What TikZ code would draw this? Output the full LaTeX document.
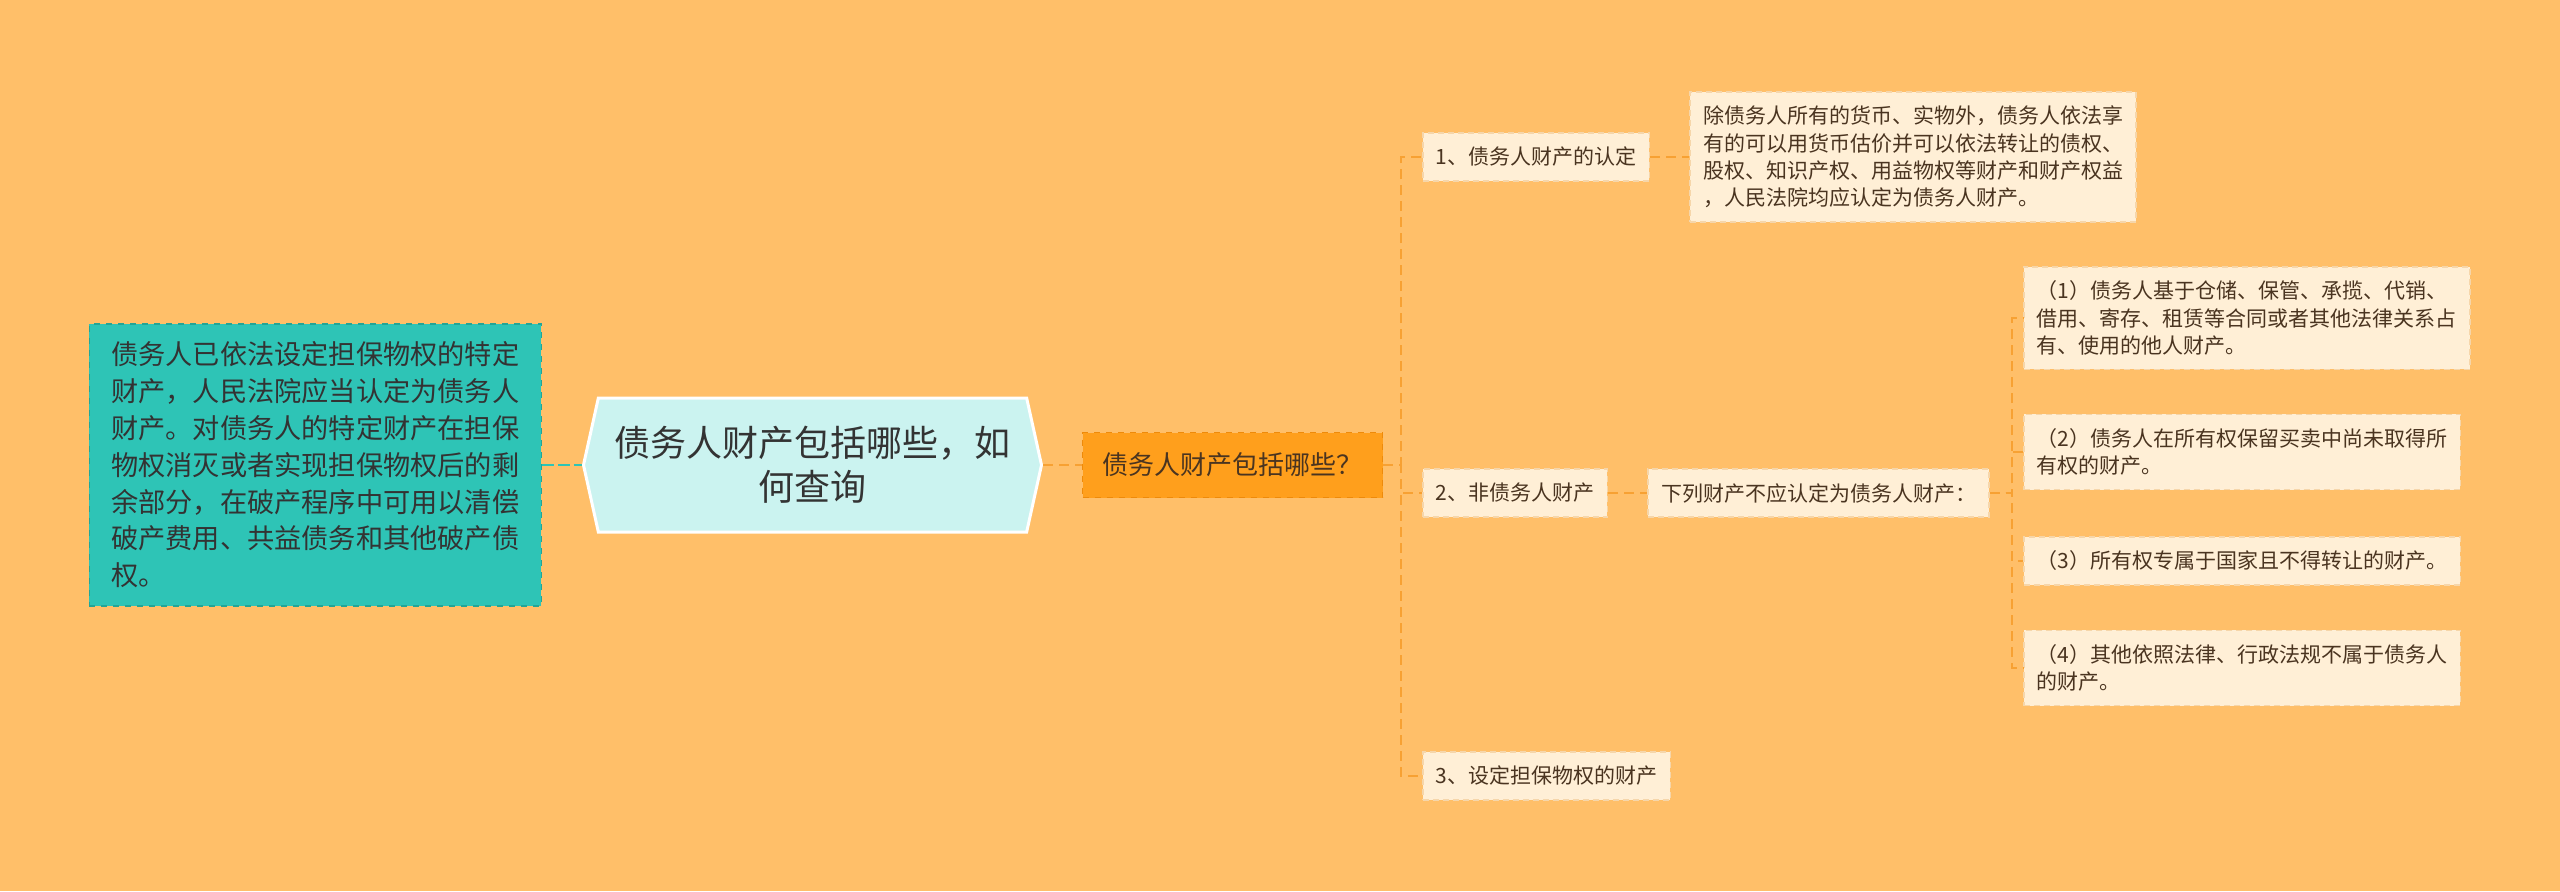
\documentclass[tikz,border=0pt]{standalone}
\usepackage{fontspec}
\setmainfont{Noto Sans CJK SC}
\usetikzlibrary{positioning,shapes.symbols}

\definecolor{bgorange}{HTML}{FFBF69}
\definecolor{tealbox}{HTML}{2EC4B6}
\definecolor{tealedge}{HTML}{22A597}
\definecolor{hubfill}{HTML}{CBF3F0}
\definecolor{rootfill}{HTML}{FF9F1C}
\definecolor{rootedge}{HTML}{EE8A0A}
\definecolor{leaffill}{HTML}{FFEFD6}
\definecolor{leafedge}{HTML}{F6D6AA}
\definecolor{linkorange}{HTML}{F7A133}
\definecolor{leaftext}{HTML}{4A3420}

\begin{document}
\begin{tikzpicture}[
  x=0.5pt, y=-0.5pt,
  hub/.style={shape=signal, signal to=west and east, signal pointer angle=155,
    fill=hubfill, draw=white, line width=1.5pt, minimum width=229pt,
    minimum height=67pt, align=center, text=black!80,
    font=\fontsize{18}{22}\selectfont},
  notebox/.style={fill=tealbox, draw=tealedge, dashed, line width=0.6pt,
    align=left, inner xsep=11pt, inner ysep=9pt, text=black!80,
    font=\fontsize{13.6}{18.4}\selectfont},
  rootbox/.style={fill=rootfill, draw=rootedge, dashed, line width=0.6pt,
    minimum height=32.5pt, inner xsep=10pt, text=leaftext,
    font=\fontsize{13}{16}\selectfont},
  leaf/.style={fill=leaffill, draw=leafedge, dash pattern=on 3pt off 2pt,
    line width=0.8pt, align=left, inner xsep=6.5pt, inner ysep=7pt,
    minimum height=24pt, text=leaftext,
    font=\fontsize{10.5}{13.7}\selectfont},
  link/.style={draw=linkorange, line width=1pt, dash pattern=on 5pt off 3pt},
  tlink/.style={draw=tealbox, line width=1.2pt, dash pattern=on 6pt off 2pt}
]
\path[use as bounding box, fill=bgorange] (0,0) rectangle (2560,891);

% centre and left side
\node[hub] (hub) at (812.5,465) {债务人财产包括哪些，如\\何查询};
\node[notebox, left=20pt of hub] (basis) {债务人已依法设定担保物权的特定\\财产，人民法院应当认定为债务人\\财产。对债务人的特定财产在担保\\物权消灭或者实现担保物权后的剩\\余部分，在破产程序中可用以清偿\\破产费用、共益债务和其他破产债\\权。};
\node[rootbox, right=19.5pt of hub] (root) {债务人财产包括哪些？};

% branches
\node[leaf, anchor=west] (c1) at (1422,157) {1、债务人财产的认定};
\node[leaf, right=19.5pt of c1] (c1d) {除债务人所有的货币、实物外，债务人依法享\\有的可以用货币估价并可以依法转让的债权、\\股权、知识产权、用益物权等财产和财产权益\\，人民法院均应认定为债务人财产。};
\node[leaf, anchor=west] (c2) at (1422,493) {2、非债务人财产};
\node[leaf, right=19.5pt of c2] (c2n) {下列财产不应认定为债务人财产：};
\node[leaf, anchor=west] (c3) at (1422,776) {3、设定担保物权的财产};

\node[leaf, anchor=west] (i1) at (2023,318) {（1）债务人基于仓储、保管、承揽、代销、\\借用、寄存、租赁等合同或者其他法律关系占\\有、使用的他人财产。};
\node[leaf, anchor=west] (i2) at (2023,452) {（2）债务人在所有权保留买卖中尚未取得所\\有权的财产。};
\node[leaf, anchor=west] (i3) at (2023,561) {（3）所有权专属于国家且不得转让的财产。};
\node[leaf, anchor=west] (i4) at (2023,668) {（4）其他依照法律、行政法规不属于债务人\\的财产。};

% connectors
\draw[tlink] (basis.east) -- (hub.west);
\draw[link] (hub.east) -- (root.west);
\draw[link] (root.east) -- ++(18,0) |- (c1.west);
\draw[link] (root.east) -- ++(18,0) |- (c2.west);
\draw[link] (root.east) -- ++(18,0) |- (c3.west);
\draw[link] (c1.east) -- (c1d.west);
\draw[link] (c2.east) -- (c2n.west);
\draw[link] (c2n.east) -- ++(22,0) |- (i1.west);
\draw[link] (c2n.east) -- ++(22,0) |- (i2.west);
\draw[link] (c2n.east) -- ++(22,0) |- (i3.west);
\draw[link] (c2n.east) -- ++(22,0) |- (i4.west);
\end{tikzpicture}
\end{document}
